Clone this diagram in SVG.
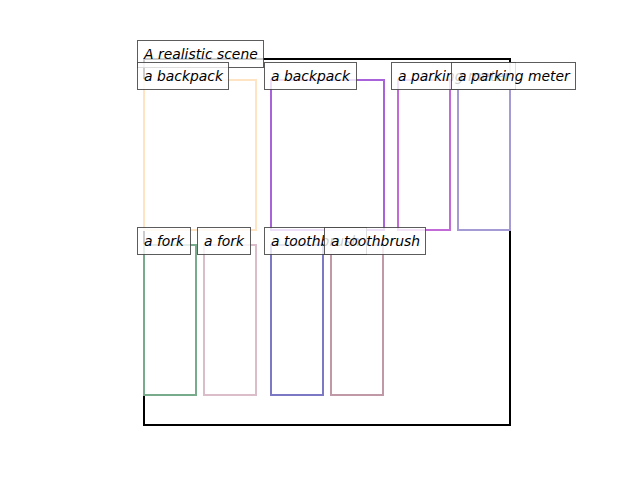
<svg xmlns="http://www.w3.org/2000/svg" width="640" height="480" viewBox="0 0 640 480">
<style>
.obj{fill:none;stroke-width:2;stroke-linejoin:miter}
.lb rect{fill:#ffffff;fill-opacity:0.8;stroke:#3f3f3f;stroke-opacity:0.85;stroke-width:1}
.lb text{font-family:"DejaVu Sans",sans-serif;font-style:italic;font-size:13.9px;fill:#000}
</style>
<rect width="640" height="480" fill="#ffffff"/>
<g id="scene"><rect x="144" y="59" width="366" height="366" fill="none" stroke="#000" stroke-width="2"/></g>
<g id="objects">
<rect id="backpack1" class="obj" x="144" y="80" width="112" height="150" stroke="#ffe4c4"/>
<rect id="backpack2" class="obj" x="271" y="80" width="113" height="150" stroke="#a862da"/>
<rect id="parking1" class="obj" x="398" y="80" width="52" height="150" stroke="#c26ad8"/>
<rect id="parking2" class="obj" x="458" y="80" width="52" height="150" stroke="#a49ad4"/>
<rect id="fork1" class="obj" x="144" y="245" width="52" height="150" stroke="#78ab8c"/>
<rect id="fork2" class="obj" x="204" y="245" width="52" height="150" stroke="#dbbcc9"/>
<rect id="toothbrush1" class="obj" x="271" y="245" width="52" height="150" stroke="#7c78c4"/>
<rect id="toothbrush2" class="obj" x="331" y="245" width="52" height="150" stroke="#c098a6"/>
</g>
<g id="labels" class="lb">
<g id="l-title"><rect x="137.5" y="40.5" width="126" height="27"/><text x="144" y="59">A realistic scene</text></g>
<g id="l-backpack1"><rect x="137.5" y="62.5" width="91" height="27"/><text x="144" y="81">a backpack</text></g>
<g id="l-backpack2"><rect x="264.5" y="62.5" width="92" height="27"/><text x="271" y="81">a backpack</text></g>
<g id="l-parking1"><rect x="391.5" y="62.5" width="124" height="27"/><text x="398" y="81">a parking meter</text></g>
<g id="l-parking2"><rect x="451.5" y="62.5" width="124" height="27"/><text x="458" y="81">a parking meter</text></g>
<g id="l-fork1"><rect x="137.5" y="227.5" width="53" height="27"/><text x="144" y="246">a fork</text></g>
<g id="l-fork2"><rect x="197.5" y="227.5" width="53" height="27"/><text x="204" y="246">a fork</text></g>
<g id="l-toothbrush1"><rect x="264.5" y="227.5" width="102" height="27"/><text x="271" y="246">a toothbrush</text></g>
<g id="l-toothbrush2"><rect x="324.5" y="227.5" width="101" height="27"/><text x="331" y="246">a toothbrush</text></g>
</g>
</svg>
